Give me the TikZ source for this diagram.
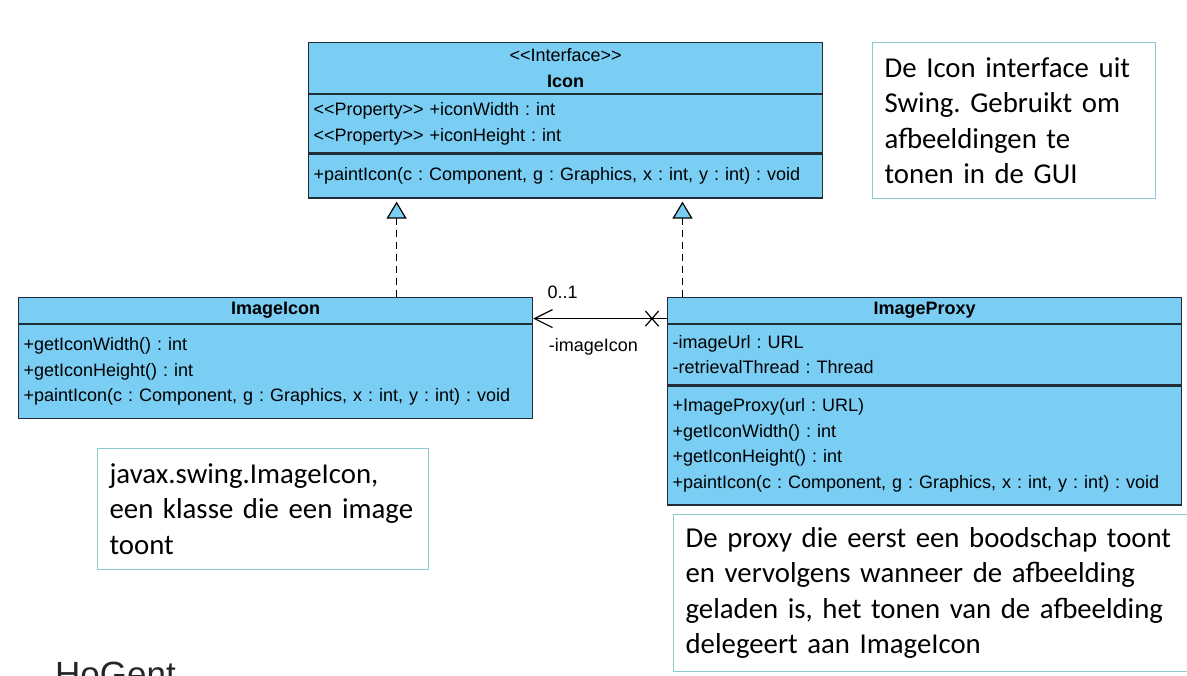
\documentclass[tikz,border=0pt]{standalone}
\usepackage{fontspec}
\setmainfont{Liberation Sans}[Ligatures=TeXOff]
\newfontfamily\notefont{Carlito}
\usepackage{xcolor}
\usetikzlibrary{arrows.meta,shapes.misc,positioning}
\frenchspacing
\definecolor{umlblue}{RGB}{122,205,243}
\definecolor{umlline}{RGB}{35,45,55}
\definecolor{noteline}{RGB}{140,203,208}
\tikzstyle{class head}=[
    draw = umlline,
    line width = 1.2pt,
    fill = umlblue,
    anchor = north west,
    minimum width = 514pt,
    inner sep = 0pt,
    align = center,
    font = \fontsize{18}{26}\selectfont
]
\tikzstyle{class part}=[
    class head,
    text width = 504pt,
    inner xsep = 5pt,
    align = left,
    font = \fontsize{18}{25.5}\selectfont
]
\tikzstyle{note}=[
    draw = noteline,
    line width = 1.2pt,
    fill = white,
    anchor = north west,
    inner xsep = 12pt,
    inner ysep = 0pt,
    align = left,
    font = \notefont\fontsize{28.8}{35.5}\selectfont
]

\begin{document}
\begin{tikzpicture}[x=1pt, y=-1pt,
    realizes/.style = {line width=1.2pt, dash pattern=on 7pt off 5pt, shorten >=3pt,
        -{Triangle[width=20pt, length=17pt, fill=umlblue]}},
    navigable/.style = {line width=1.2pt, -{Straight Barb[width=18pt, length=18pt]}},
    label/.style = {inner sep=0pt, font=\fontsize{18}{20}\selectfont}]
        \fill[white] (0,0) rectangle (1187,676);
        \useasboundingbox (0,0) rectangle (1187,676);

        \node[class head, minimum height=51pt] (iconhead) at (308,42) {{\fontsize{18}{26}\selectfont <<Interface>>}\\\textbf{Icon}};
        \node[class part, minimum height=58pt] (iconattr) at (iconhead.south west) {<<Property>> +iconWidth : int\\<<Property>> +iconHeight : int};
        \node[class part, minimum height=44pt] (iconops) at (iconattr.south west) {+paintIcon(c : Component, g : Graphics, x : int, y : int) : void};

        \node[class head, minimum height=26pt] (imghead) at (18,297) {\textbf{ImageIcon}};
        \node[class part, minimum height=94pt] (imgops) at (imghead.south west) {+getIconWidth() : int\\+getIconHeight() : int\\+paintIcon(c : Component, g : Graphics, x : int, y : int) : void};

        \node[class head, minimum height=26pt] (proxyhead) at (667,297) {\textbf{ImageProxy}};
        \node[class part, minimum height=60pt] (proxyattr) at (proxyhead.south west) {-imageUrl : URL\\-retrievalThread : Thread};
        \node[class part, minimum height=119pt] (proxyops) at (proxyattr.south west) {+ImageProxy(url : URL)\\+getIconWidth() : int\\+getIconHeight() : int\\+paintIcon(c : Component, g : Graphics, x : int, y : int) : void};

        \node[note, minimum width=283pt, minimum height=156pt, text width=259pt] (note1) at (872,42) {De Icon interface uit\\Swing. Gebruikt om\\afbeeldingen te\\tonen in de GUI};
        \node[note, minimum width=331pt, minimum height=121pt, text width=307pt] (note2) at (97,448) {javax.swing.ImageIcon,\\een klasse die een image\\toont};
        \node[note, minimum width=530pt, minimum height=157pt, text width=506pt] (note3) at (673,514) {De proxy die eerst een boodschap toont\\en vervolgens wanneer de afbeelding\\geladen is, het tonen van de afbeelding\\delegeert aan ImageIcon};

        \node[anchor=base west, inner sep=0pt, text=black!85, font=\fontsize{35}{40}\selectfont] (logo) at (55,686) {HoGent};

        \draw[realizes] ([xshift=121pt]imghead.north) -- ([xshift=121pt]imghead.north |- iconops.south);
        \draw[realizes] ([xshift=15.5pt]proxyhead.north west) -- ([xshift=15.5pt]proxyhead.north west |- iconops.south);

        \draw[navigable] ([yshift=-8pt]proxyhead.west) -- ([yshift=-8pt]imghead.east)
            node [label, pos=0.78, above=19pt] {0..1}
            node [label, pos=0.55, below=19pt] {-imageIcon};
        \node[cross out, draw, line width=1.2pt, minimum width=12pt, minimum height=14pt, inner sep=0pt] (navend) at ([xshift=-15pt, yshift=-8pt]proxyhead.west) {};

    \end{tikzpicture}
\end{document}
